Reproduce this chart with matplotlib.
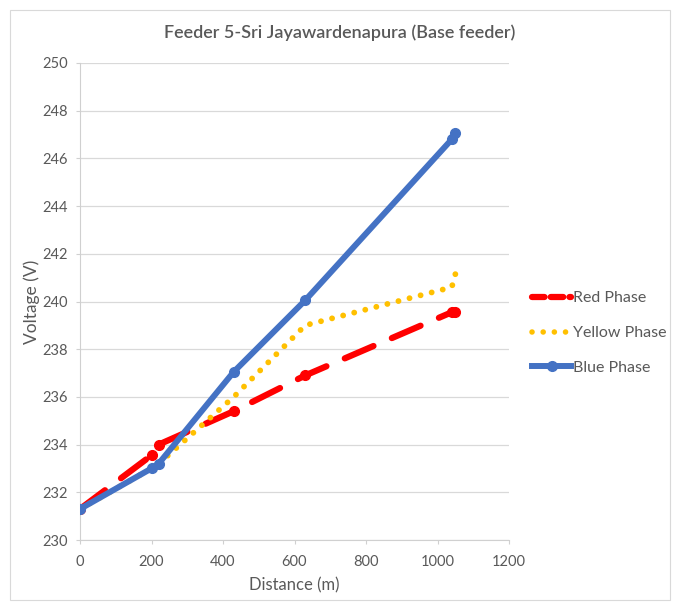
import matplotlib
matplotlib.use("Agg")
import matplotlib.pyplot as plt
from matplotlib.lines import Line2D
from matplotlib.patches import Rectangle

distance = [0, 200, 220, 430, 630, 1040, 1050]
red = [231.3, 233.55, 234.0, 235.4, 236.9, 239.55, 239.55]
yellow = [231.3, 233.0, 233.2, 236.0, 239.0, 240.6, 241.15]
blue = [231.3, 233.0, 233.2, 237.05, 240.05, 246.8, 247.05]

title = "Feeder 5-Sri Jayawardenapura (Base feeder)"
xticks = [0, 200, 400, 600, 800, 1000, 1200]
yticks = [230, 232, 234, 236, 238, 240, 242, 244, 246, 248, 250]

plt.rcParams['font.family'] = ['Lato', 'DejaVu Sans']
txt = '#595959'

fig = plt.figure(figsize=(6.78, 6.10), dpi=100)
fig.patches.append(Rectangle((10/678, 1-600/610), 660/678, 590/610, transform=fig.transFigure,
                             fill=False, edgecolor='#d9d9d9', lw=0.8))
ax = fig.add_axes([80/678, 1-540/610, 429/678, 477/610])

ax.plot(distance, red, color='#ff0000', lw=4.5, dashes=(5, 3.2), marker='o', markersize=7,
        solid_capstyle='round', dash_capstyle='round', zorder=3)
ax.plot(distance, yellow, color='#ffc000', lw=4.2, dashes=(0.01, 1.95), dash_capstyle='round', zorder=3)
ax.plot(distance, blue, color='#4472c4', lw=4.3, marker='o', markersize=7, zorder=4,
        solid_capstyle='round')

ax.set_xlim(0, 1200)
ax.set_ylim(230, 250)
ax.set_xticks(xticks)
ax.set_yticks(yticks)
ax.grid(axis='y', color='#d9d9d9', lw=0.9)
ax.set_axisbelow(True)
for s in ['top', 'right']:
    ax.spines[s].set_visible(False)
for s in ['left', 'bottom']:
    ax.spines[s].set_color('#d0d0d0')
ax.tick_params(axis='both', colors=txt, labelsize=10.5, length=3, color='#d0d0d0', width=0.8)
ax.tick_params(axis='x', pad=8)
ax.tick_params(axis='y', pad=6)
ax.set_xlabel('Distance (m)', color=txt, fontsize=12, labelpad=6)
ax.set_ylabel('Voltage (V)', color=txt, fontsize=12.5, labelpad=1)
fig.text(340/678, 1-33/610, title, ha='center', va='center', color=txt, fontsize=13,
         fontweight='semibold')

handles = [
    Line2D([], [], color='#ff0000', lw=4.5, dashes=(2.0, 1.0), dash_capstyle='round'),
    Line2D([], [], color='#ffc000', lw=4.0, dashes=(0.01, 2.0), dash_capstyle='round'),
    Line2D([], [], color='#4472c4', lw=4.3, marker='o', markersize=7),
]
fig.legend(handles, ['Red Phase', 'Yellow Phase', 'Blue Phase'], loc='center left',
           bbox_to_anchor=(518/678, 1-333/610), frameon=False, fontsize=11.5,
           labelcolor=txt, handlelength=2.4, handletextpad=0.15, labelspacing=1.3)

fig.savefig('out.png', dpi=100)
